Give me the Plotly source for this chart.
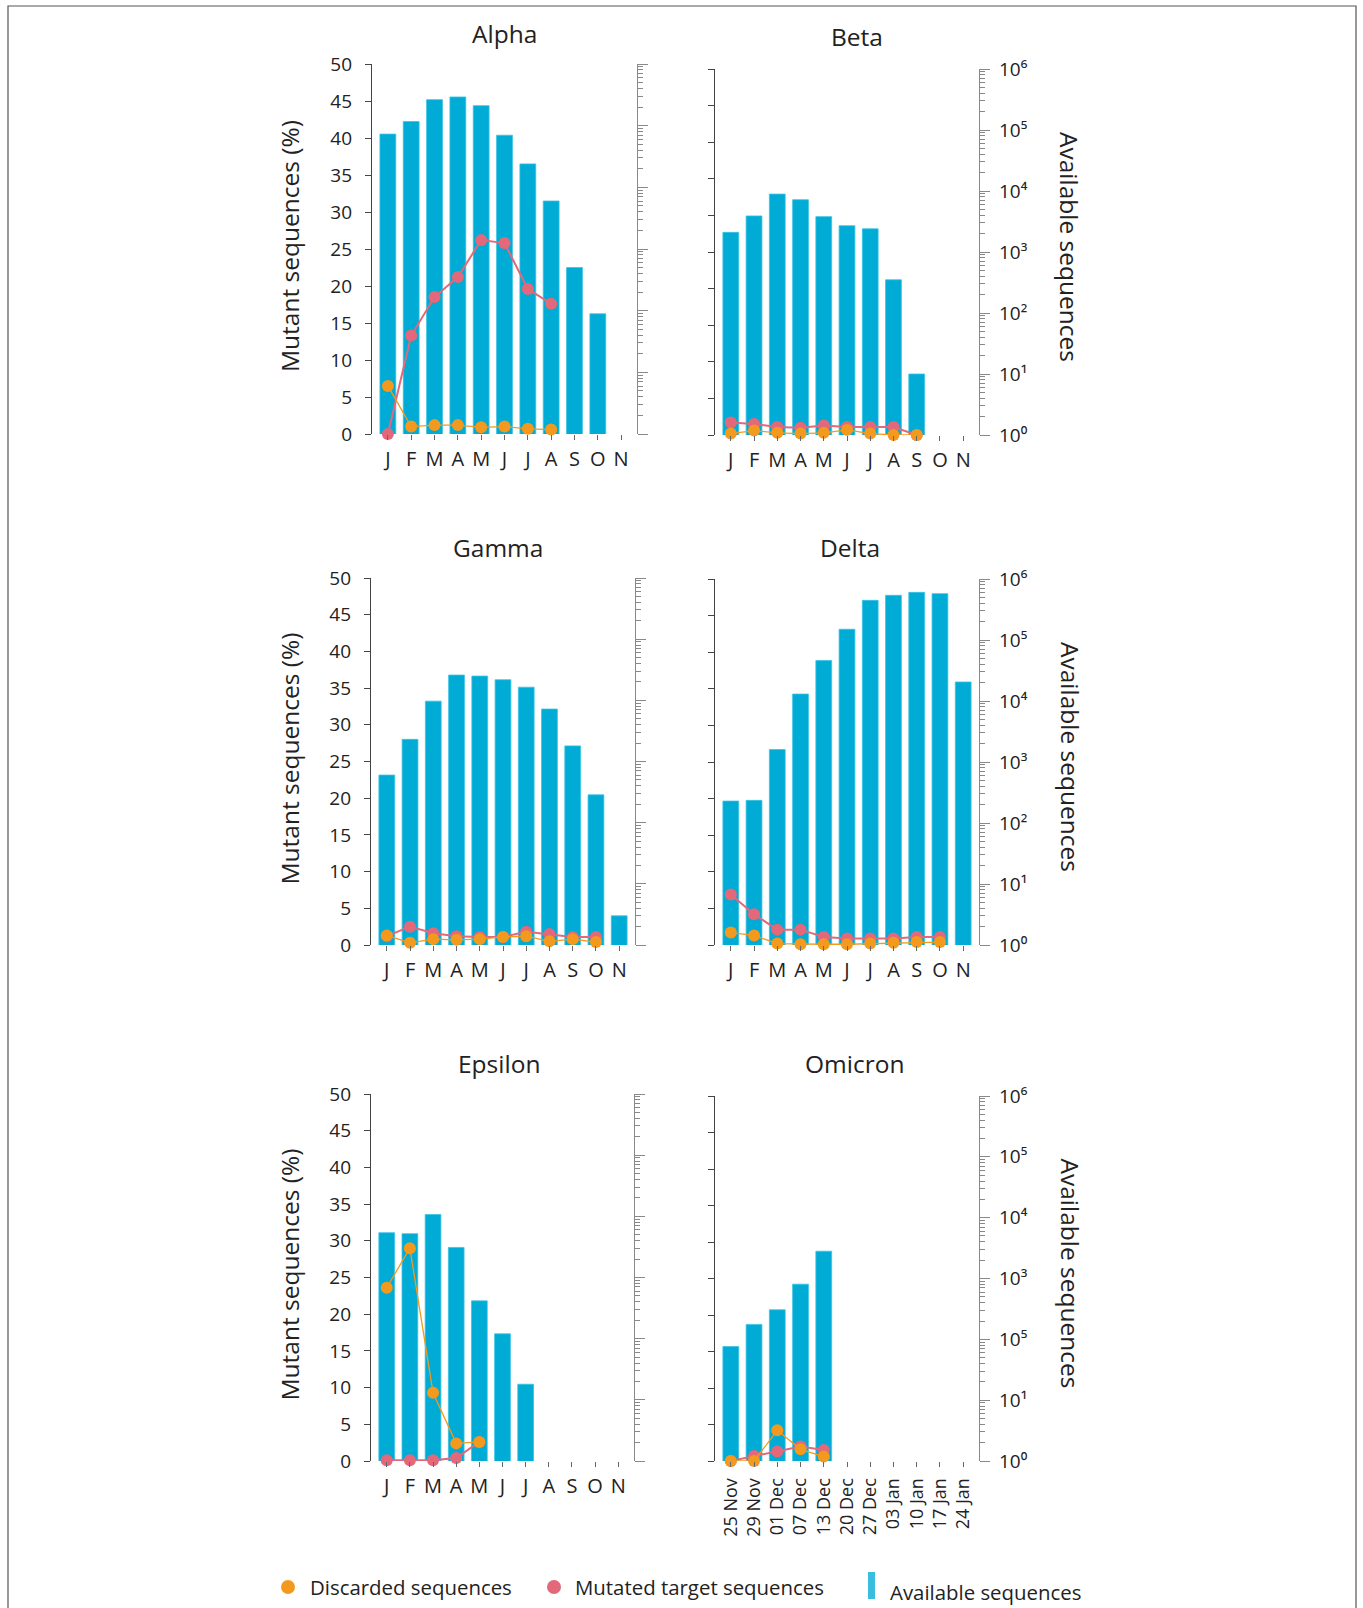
import plotly.graph_objects as go

# ---------------- data ----------------
months = ["J", "F", "M", "A", "M", "J", "J", "A", "S", "O", "N"]
omicron_dates = ["25 Nov", "29 Nov", "01 Dec", "07 Dec", "13 Dec", "20 Dec",
                 "27 Dec", "03 Jan", "10 Jan", "17 Jan", "24 Jan"]

alpha_available = [73000, 117000, 264000, 292000, 211000, 70000, 24000, 6000, 500, 89, None]
alpha_mutated = [0, 13.3, 18.5, 21.2, 26.2, 25.8, 19.6, 17.6, None, None, None]
alpha_discarded = [6.5, 1.0, 1.2, 1.2, 0.9, 1.0, 0.7, 0.6, None, None, None]

beta_available = [2100, 3900, 8900, 7200, 3800, 2700, 2400, 350, 10, None, None]
beta_mutated = [1.7, 1.5, 1.1, 1.0, 1.3, 1.1, 1.1, 1.1, 0, None, None]
beta_discarded = [0.2, 0.6, 0.3, 0.2, 0.3, 0.7, 0.2, 0, 0, None, None]

gamma_available = [600, 2300, 9700, 25900, 24900, 21700, 16400, 7200, 1800, 285, 3]
gamma_mutated = [1.2, 2.5, 1.6, 1.2, 1.1, 1.1, 1.8, 1.5, 1.1, 1.1, None]
gamma_discarded = [1.3, 0.3, 0.8, 0.7, 0.8, 1.1, 1.2, 0.5, 0.8, 0.4, None]

delta_available = [229, 235, 1600, 13000, 46000, 150000, 447000, 540000, 604000, 575000, 20500]
delta_mutated = [6.9, 4.2, 2.1, 2.1, 1.1, 0.9, 0.9, 0.9, 1.1, 1.1, None]
delta_discarded = [1.7, 1.3, 0.2, 0.1, 0.1, 0.1, 0.2, 0.3, 0.4, 0.4, None]

epsilon_available = [5400, 5200, 10700, 3100, 415, 120, 18, None, None, None, None]
epsilon_mutated = [0.1, 0.1, 0.1, 0.4, 2.6, None, None, None, None, None, None]
epsilon_discarded = [23.6, 29.0, 9.3, 2.4, 2.6, None, None, None, None, None, None]

omicron_available = [76, 176, 306, 807, 2810, None, None, None, None, None, None]
omicron_mutated = [0, 0.7, 1.3, 2.0, 1.5, None, None, None, None, None, None]
omicron_discarded = [0, 0, 4.2, 1.6, 0.6, None, None, None, None, None, None]

log_tickvals = [1, 10, 100, 1000, 10000, 100000, 1000000]
log_ticktext = ["10⁰", "10¹", "10²", "10³", "10⁴", "10⁵", "10⁶"]
omicron_log_ticktext = ["10⁰", "10¹", "10⁵", "10³", "10⁴", "10⁵", "10⁶"]

legend_labels = ["Discarded sequences", "Mutated target sequences", "Available sequences"]

# ---------------- styling ----------------
W, H = 1363, 1608
FONT = "Open Sans"
BAR_C = "#00ABD5"
ORANGE = "#F39A1E"
PINK = "#E2687A"
TXT = "#222222"


def px_x(v):
    return v / W


def px_y(v):
    return 1 - v / H


panels = [
    dict(name="Alpha", cats=months, av=alpha_available, mu=alpha_mutated, di=alpha_discarded,
         x=(372, 637), y=(64, 434), title=(505, 33), col=0, tt=log_ticktext, rot=False),
    dict(name="Beta", cats=months, av=beta_available, mu=beta_mutated, di=beta_discarded,
         x=(715, 979), y=(69, 435), title=(857, 37), col=1, tt=log_ticktext, rot=False),
    dict(name="Gamma", cats=months, av=gamma_available, mu=gamma_mutated, di=gamma_discarded,
         x=(371, 635), y=(578, 945), title=(498, 547), col=0, tt=log_ticktext, rot=False),
    dict(name="Delta", cats=months, av=delta_available, mu=delta_mutated, di=delta_discarded,
         x=(715, 979), y=(579, 945), title=(850, 547), col=1, tt=log_ticktext, rot=False),
    dict(name="Epsilon", cats=months, av=epsilon_available, mu=epsilon_mutated, di=epsilon_discarded,
         x=(371, 634), y=(1094, 1461), title=(499, 1063), col=0, tt=log_ticktext, rot=False),
    dict(name="Omicron", cats=omicron_dates, av=omicron_available, mu=omicron_mutated,
         di=omicron_discarded, x=(715, 979), y=(1096, 1461), title=(854, 1063), col=1,
         tt=omicron_log_ticktext, rot=True),
]

minor_vals = [k * 10 ** d for d in range(6) for k in range(2, 10)]

fig = go.Figure()
layout = dict(
    width=W, height=H, autosize=False,
    margin=dict(l=0, r=0, t=0, b=0, pad=0, autoexpand=False),
    paper_bgcolor="white", plot_bgcolor="rgba(0,0,0,0)",
    showlegend=False, font=dict(family=FONT, color=TXT),
    annotations=[], shapes=[],
)

for i, p in enumerate(panels):
    xi = i + 1
    yb = 2 * i + 1   # log axis (bars)
    yl = 2 * i + 2   # linear axis (percent)
    xname = "x" if xi == 1 else f"x{xi}"
    ybname = "y" if yb == 1 else f"y{yb}"
    ylname = f"y{yl}"
    idx = list(range(len(p["cats"])))

    fig.add_trace(go.Bar(x=idx, y=p["av"], xaxis=xname, yaxis=ybname, width=0.68,
                         marker=dict(color=BAR_C, line=dict(color="#38C3E3", width=0.8)),
                         name=legend_labels[2]))
    fig.add_trace(go.Scatter(x=idx, y=p["mu"], xaxis=xname, yaxis=ylname, mode="lines+markers",
                             line=dict(color=PINK, width=2), marker=dict(color=PINK, size=12),
                             cliponaxis=False, name=legend_labels[1]))
    fig.add_trace(go.Scatter(x=idx, y=p["di"], xaxis=xname, yaxis=ylname, mode="lines+markers",
                             line=dict(color=ORANGE, width=1.3), marker=dict(color=ORANGE, size=12),
                             cliponaxis=False, name=legend_labels[0]))

    xdom = [px_x(p["x"][0]), px_x(p["x"][1])]
    ydom = [px_y(p["y"][1]), px_y(p["y"][0])]

    layout["xaxis" if xi == 1 else f"xaxis{xi}"] = dict(
        domain=xdom, anchor=ybname, range=[-0.68, 10.68], automargin=False,
        tickmode="array", tickvals=idx, ticktext=p["cats"],
        ticks="outside", ticklen=5, tickwidth=1, tickcolor="#666",
        showline=False, showgrid=False, zeroline=False,
        tickfont=dict(size=20 if not p["rot"] else 18, family=FONT, color=TXT),
        tickangle=-90 if p["rot"] else 0, ticklabelstandoff=2 if not p["rot"] else 4,
    )
    layout["yaxis" if yb == 1 else f"yaxis{yb}"] = dict(
        domain=ydom, anchor=xname, side="right", type="log", range=[0, 6], automargin=False,
        tickmode="array", tickvals=log_tickvals, ticktext=p["tt"],
        showticklabels=(p["col"] == 1),
        ticks="outside", ticklen=10, tickwidth=1, tickcolor="#888",
        showline=True, linecolor="#888", linewidth=1.3,
        showgrid=False, zeroline=False,
        tickfont=dict(size=19, family=FONT, color=TXT), ticklabelstandoff=5,
        minor=dict(tickmode="array", tickvals=minor_vals, ticks="outside", ticklen=5,
                   tickwidth=1, tickcolor="#888", showgrid=False),
    )
    layout[f"yaxis{yl}"] = dict(
        overlaying=ybname, anchor=xname, side="left", range=[0, 50], automargin=False,
        tickmode="linear", tick0=0, dtick=5,
        showticklabels=(p["col"] == 0),
        ticks="outside", ticklen=6, tickwidth=1.2, tickcolor="#444",
        showline=True, linecolor="#444", linewidth=1.3,
        showgrid=False, zeroline=False,
        tickfont=dict(size=19, family=FONT, color=TXT), ticklabelstandoff=9,
    )

    # panel title
    layout["annotations"].append(dict(
        text=p["name"], xref="paper", yref="paper", x=px_x(p["title"][0]), y=px_y(p["title"][1]),
        xanchor="center", yanchor="middle", showarrow=False,
        font=dict(size=24.5, family=FONT, color=TXT)))
    ymid = (p["y"][0] + p["y"][1]) / 2
    if p["col"] == 0:
        layout["annotations"].append(dict(
            text="Mutant sequences (%)", xref="paper", yref="paper", x=px_x(289), y=px_y(ymid - 3),
            xanchor="center", yanchor="middle", showarrow=False, textangle=-90,
            font=dict(size=24.5, family=FONT, color=TXT)))
    else:
        layout["annotations"].append(dict(
            text="Available sequences", xref="paper", yref="paper", x=px_x(1070), y=px_y(ymid - 5),
            xanchor="center", yanchor="middle", showarrow=False, textangle=90,
            font=dict(size=24.5, family=FONT, color=TXT)))

# outer frame
layout["shapes"].append(dict(type="rect", xref="paper", yref="paper",
                             x0=px_x(8), x1=px_x(1356), y0=px_y(1640), y1=px_y(6),
                             line=dict(color="#555", width=1.2), fillcolor="rgba(0,0,0,0)",
                             layer="below"))

# manual legend
def dot(cx, cy, r, color):
    return dict(type="circle", xref="paper", yref="paper",
                x0=px_x(cx - r), x1=px_x(cx + r), y0=px_y(cy + r), y1=px_y(cy - r),
                fillcolor=color, line=dict(width=0))

layout["shapes"].append(dot(288, 1587, 7, ORANGE))
layout["shapes"].append(dot(554, 1587, 7, PINK))
layout["shapes"].append(dict(type="rect", xref="paper", yref="paper",
                             x0=px_x(868), x1=px_x(875), y0=px_y(1599), y1=px_y(1572),
                             fillcolor="#3ABEE0", line=dict(width=0)))
for label, lx, ly in [(legend_labels[0], 308, 1587), (legend_labels[1], 573, 1587),
                      (legend_labels[2], 888, 1592)]:
    layout["annotations"].append(dict(
        text=label, xref="paper", yref="paper", x=px_x(lx), y=px_y(ly),
        xanchor="left", yanchor="middle", showarrow=False,
        font=dict(size=20.4, family=FONT, color=TXT)))

fig.update_layout(**layout)
fig.write_html("out.html")
